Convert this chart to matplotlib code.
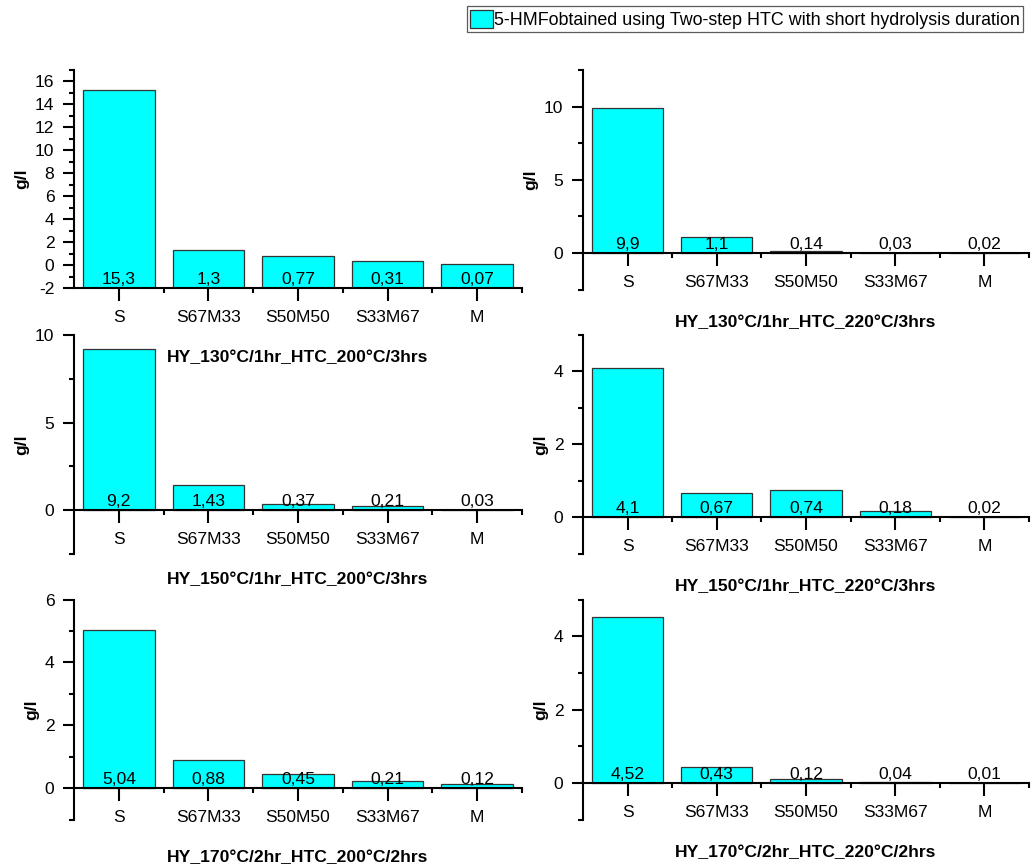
import matplotlib
matplotlib.use('Agg')
import matplotlib.pyplot as plt
from matplotlib.patches import Patch
from matplotlib.ticker import MultipleLocator, FixedLocator

plt.rcParams['font.family'] = ['Liberation Sans', 'DejaVu Sans']
plt.rcParams['font.size'] = 12.6
plt.rcParams['axes.unicode_minus'] = False

# 数据
categories = ['S', 'S67M33', 'S50M50', 'S33M67', 'M']

hy130_htc200 = [15.3, 1.3, 0.77, 0.31, 0.07]
hy130_htc220 = [9.9, 1.1, 0.14, 0.03, 0.02]
hy150_htc200 = [9.2, 1.43, 0.37, 0.21, 0.03]
hy150_htc220 = [4.1, 0.67, 0.74, 0.18, 0.02]
hy170_htc200 = [5.04, 0.88, 0.45, 0.21, 0.12]
hy170_htc220 = [4.52, 0.43, 0.12, 0.04, 0.01]

titles = ['HY_130°C/1hr_HTC_200°C/3hrs', 'HY_130°C/1hr_HTC_220°C/3hrs',
          'HY_150°C/1hr_HTC_200°C/3hrs', 'HY_150°C/1hr_HTC_220°C/3hrs',
          'HY_170°C/2hr_HTC_200°C/2hrs', 'HY_170°C/2hr_HTC_220°C/2hrs']

legend_label = '5-HMFobtained using Two-step HTC with short hydrolysis duration'

W, H = 1031, 867
fig = plt.figure(figsize=(W / 100, H / 100), dpi=100)


def px_axes(x0, x1, y0, y1):
    return fig.add_axes([x0 / W, 1 - y1 / H, (x1 - x0) / W, (y1 - y0) / H])


# (数值, 像素框, y范围, 主刻度, 次刻度, 基线)
panels = [
    (hy130_htc200, (74, 522, 70, 288), (-2, 17), 2, 1, -2),
    (hy130_htc220, (583, 1029, 70, 289.6), (-2.5, 12.5), 5, 2.5, 0),
    (hy150_htc200, (74, 522, 335, 553.8), (-2.5, 10), 5, 2.5, 0),
    (hy150_htc220, (583, 1029, 335, 553.7), (-1, 5), 2, 1, 0),
    (hy170_htc200, (74, 522, 599.6, 819.5), (-1, 6), 2, 1, 0),
    (hy170_htc220, (583, 1029, 599.6, 819.8), (-1, 5), 2, 1, 0),
]

x = list(range(len(categories)))

for (vals, box, ylim, major, minor, base), title in zip(panels, titles):
    ax = px_axes(*box)
    ax.patch.set_alpha(0)
    ax.bar(x, [v - base for v in vals], bottom=base, width=0.8,
           color='#00FFFF', edgecolor='#333333', linewidth=0.9, zorder=2)
    for i, v in enumerate(vals):
        ax.annotate(str(v).replace('.', ','), xy=(i, base), xytext=(0, 3),
                    textcoords='offset points', ha='center', va='baseline',
                    zorder=3, annotation_clip=False)

    ax.set_xlim(-0.5, 4.5)
    ax.set_ylim(*ylim)
    ax.spines['top'].set_visible(False)
    ax.spines['right'].set_visible(False)
    ax.spines['bottom'].set_position(('data', base))
    for s in ('left', 'bottom'):
        ax.spines[s].set_linewidth(1.5)
        ax.spines[s].set_zorder(4)

    ax.set_xticks(x)
    ax.set_xticklabels(categories)
    ax.xaxis.set_minor_locator(FixedLocator([0.5, 1.5, 2.5, 3.5, 4.5]))
    ax.yaxis.set_major_locator(MultipleLocator(major))
    ax.yaxis.set_minor_locator(MultipleLocator(minor))
    ax.tick_params(axis='x', which='major', direction='out', length=9, width=1.5, pad=6.5)
    ax.tick_params(axis='x', which='minor', direction='out', length=3.6, width=1.5)
    ax.tick_params(axis='y', which='major', direction='out', length=7.6, width=1.5, pad=6.5)
    ax.tick_params(axis='y', which='minor', direction='out', length=3.6, width=1.5)

    ax.set_ylabel('g/l', fontweight='bold', labelpad=4)
    ax.annotate(title, xy=(0.5, base), xycoords=ax.get_yaxis_transform(),
                xytext=(0, -50), textcoords='offset points', ha='center',
                va='center', fontweight='bold', annotation_clip=False, zorder=5)

leg = fig.legend(handles=[Patch(facecolor='#00FFFF', edgecolor='#333333', linewidth=0.9)],
                 labels=[legend_label], loc='upper right', fontsize=12.9,
                 bbox_to_anchor=(1023 / W, 1 - 6 / H), frameon=True, fancybox=False,
                 edgecolor='#333333', borderpad=0.2, handlelength=1.25,
                 handleheight=1.2, handletextpad=0.05, borderaxespad=0)
leg.get_frame().set_linewidth(0.9)

fig.savefig('out.png', dpi=100)
